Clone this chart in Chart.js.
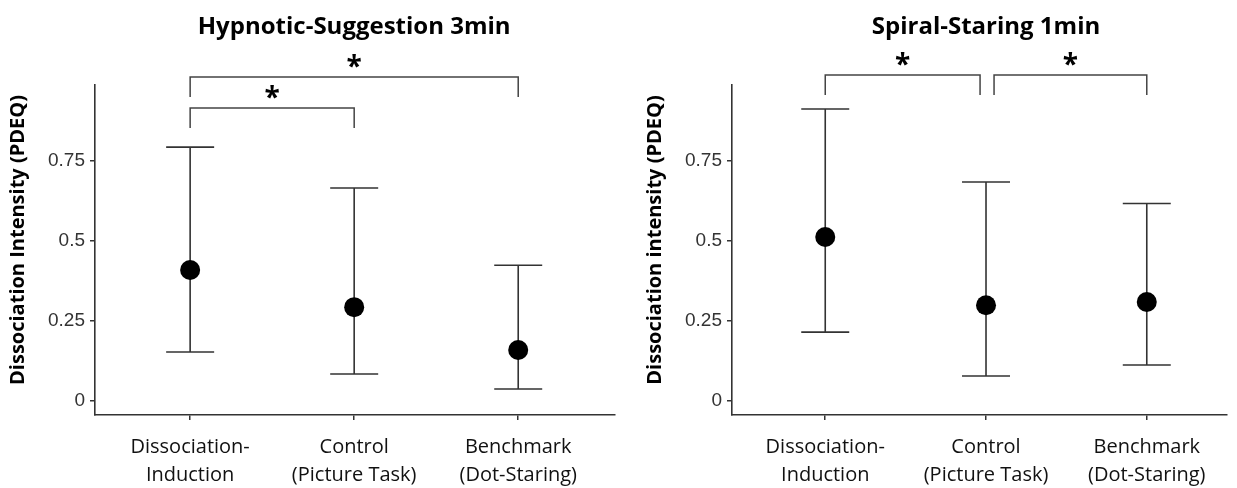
<!DOCTYPE html>
<html>
<head>
<meta charset="utf-8">
<script src="https://cdn.jsdelivr.net/npm/chart.js@4.4.1/dist/chart.umd.min.js"></script>
<style>
  html, body { margin: 0; padding: 0; background: #fff; }
  .wrap { position: relative; width: 1237px; height: 488px; overflow: hidden; }
  canvas { position: absolute; top: 0; }
  #hypnoChart { left: 0; }
  #spiralChart { left: 637px; }
</style>
</head>
<body>
<div class="wrap">
  <canvas id="hypnoChart" width="636" height="488"></canvas>
  <canvas id="spiralChart" width="600" height="488"></canvas>
</div>
<script>
// categories and y ticks shared by both panels
const categories = [['Dissociation-', 'Induction'], ['Control', '(Picture Task)'], ['Benchmark', '(Dot-Staring)']];
const categoryPos = [1, 2, 3];
const yTicks = [0, 0.25, 0.5, 0.75];

// Hypnotic-Suggestion 3min
const hypnoMeans = [0.408, 0.292, 0.158];
const hypnoLower = [0.152, 0.083, 0.036];
const hypnoUpper = [0.792, 0.664, 0.423];
const hypnoSigFrom = [1, 1];
const hypnoSigTo = [2, 3];
const hypnoSigY = [0.914, 1.011];

// Spiral-Staring 1min
const spiralMeans = [0.511, 0.298, 0.308];
const spiralLower = [0.214, 0.077, 0.111];
const spiralUpper = [0.911, 0.683, 0.616];
const spiralSigFrom = [1, 2.05];
const spiralSigTo = [1.963, 3];
const spiralSigY = [1.017, 1.017];

const INK = '#333';
const TEXT = '#111';
const SANS = '"Open Sans", "DejaVu Sans", sans-serif';

/**
 * Error bars (drawn under the points) + significance brackets, titles
 */
const annotatePlugin = {
    id: 'annotate',
    beforeDatasetsDraw(chart, args, opts) {
        const { ctx } = chart;
        const xs = chart.scales.x, ys = chart.scales.y;
        ctx.save();
        ctx.strokeStyle = INK;
        ctx.lineWidth = 1.6;
        opts.lower.forEach((lo, i) => {
            const x = xs.getPixelForValue(categoryPos[i]);
            const y1 = ys.getPixelForValue(lo);
            const y2 = ys.getPixelForValue(opts.upper[i]);
            const half = 24;
            ctx.beginPath();
            ctx.moveTo(x, y1); ctx.lineTo(x, y2);
            ctx.moveTo(x - half, y1); ctx.lineTo(x + half, y1);
            ctx.moveTo(x - half, y2); ctx.lineTo(x + half, y2);
            ctx.stroke();
        });
        ctx.restore();
    },
    afterDatasetsDraw(chart, args, opts) {
        const { ctx } = chart;
        const xs = chart.scales.x, ys = chart.scales.y;
        ctx.save();
        // brackets
        ctx.strokeStyle = '#444';
        ctx.lineWidth = 1.5;
        opts.sigY.forEach((sy, i) => {
            const x1 = xs.getPixelForValue(opts.sigFrom[i]);
            const x2 = xs.getPixelForValue(opts.sigTo[i]);
            const y = ys.getPixelForValue(sy);
            const tip = y + 20;
            ctx.beginPath();
            ctx.moveTo(x1, tip); ctx.lineTo(x1, y); ctx.lineTo(x2, y); ctx.lineTo(x2, tip);
            ctx.stroke();
            ctx.fillStyle = '#000';
            ctx.font = 'bold 28px ' + SANS;
            ctx.textAlign = 'center';
            ctx.textBaseline = 'alphabetic';
            ctx.fillText('*', (x1 + x2) / 2, y - 1);
        });
        // title centred on the middle category
        ctx.fillStyle = '#000';
        ctx.font = 'bold 24px ' + SANS;
        ctx.textAlign = 'center';
        ctx.textBaseline = 'alphabetic';
        ctx.fillText(opts.title, xs.getPixelForValue(2), 34);
        // y axis title, rotated
        ctx.translate(18, 240);
        ctx.rotate(-Math.PI / 2);
        ctx.font = 'bold 20px ' + SANS;
        ctx.textBaseline = 'middle';
        ctx.fillText(opts.yTitle, 0, 0);
        ctx.restore();
    }
};

function makePanel(canvasId, title, yTitle, means, lower, upper, sigFrom, sigTo, sigY, xMax, padRight) {
    const ctx = document.getElementById(canvasId);
    return new Chart(ctx, {
        type: 'scatter',
        data: {
            datasets: [{
                data: means.map((m, i) => ({ x: categoryPos[i], y: m })),
                pointRadius: 10,
                pointHoverRadius: 10,
                pointBackgroundColor: '#000',
                pointBorderWidth: 0
            }]
        },
        plugins: [annotatePlugin],
        options: {
            responsive: false,
            animation: false,
            events: [],
            layout: { padding: { top: 85, left: 0, right: padRight, bottom: 0 } },
            plugins: {
                legend: { display: false },
                tooltip: { enabled: false },
                annotate: { title, yTitle, lower, upper, sigFrom, sigTo, sigY }
            },
            scales: {
                x: {
                    type: 'linear',
                    min: 0.42,
                    max: xMax,
                    afterBuildTicks: s => { s.ticks = categoryPos.map(v => ({ value: v })); },
                    afterFit: s => { s.height = 73; },
                    ticks: {
                        autoSkip: false,
                        maxRotation: 0,
                        padding: 13,
                        color: TEXT,
                        font: { family: SANS, size: 20, lineHeight: 1.4 },
                        callback: v => categories[categoryPos.indexOf(v)]
                    },
                    grid: { drawOnChartArea: false, tickLength: 5, color: INK, lineWidth: 1.5 },
                    border: { color: INK, width: 1.6 }
                },
                y: {
                    min: -0.045,
                    max: 0.986,
                    afterBuildTicks: s => { s.ticks = yTicks.map(v => ({ value: v })); },
                    afterFit: s => { s.width = 95; },
                    ticks: {
                        padding: 5,
                        color: INK,
                        font: { family: '"Liberation Sans", Arial, sans-serif', size: 19 },
                        callback: v => String(v)
                    },
                    grid: { drawOnChartArea: false, tickLength: 5, color: INK, lineWidth: 1.5 },
                    border: { color: INK, width: 1.6 }
                }
            }
        }
    });
}

makePanel('hypnoChart', 'Hypnotic-Suggestion 3min', 'Dissociation Intensity (PDEQ)',
    hypnoMeans, hypnoLower, hypnoUpper, hypnoSigFrom, hypnoSigTo, hypnoSigY, 3.59, 21);
makePanel('spiralChart', 'Spiral-Staring 1min', 'Dissociation intensity (PDEQ)',
    spiralMeans, spiralLower, spiralUpper, spiralSigFrom, spiralSigTo, spiralSigY, 3.499, 0);
</script>
</body>
</html>
